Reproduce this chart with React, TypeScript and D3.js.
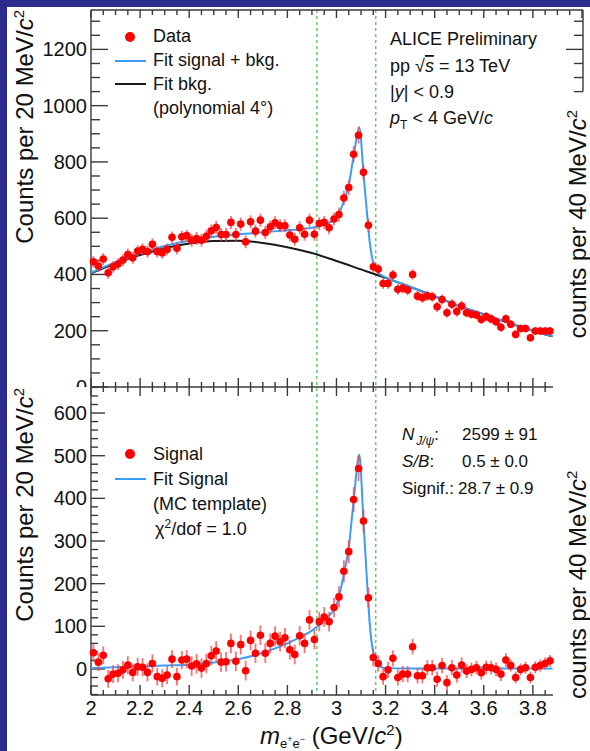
import React, { useEffect } from "react";
import * as d3 from "d3";

// ---------- data ----------
const binCenters = [
  2.01, 2.03, 2.05, 2.07, 2.09, 2.11, 2.13, 2.15, 2.17, 2.19,
  2.21, 2.23, 2.25, 2.27, 2.29, 2.31, 2.33, 2.35, 2.37, 2.39,
  2.41, 2.43, 2.45, 2.47, 2.49, 2.51, 2.53, 2.55, 2.57, 2.59,
  2.61, 2.63, 2.65, 2.67, 2.69, 2.71, 2.73, 2.75, 2.77, 2.79,
  2.81, 2.83, 2.85, 2.87, 2.89, 2.91, 2.93, 2.95, 2.97, 2.99,
  3.01, 3.03, 3.05, 3.07, 3.09, 3.11, 3.13, 3.15, 3.17, 3.19,
  3.21, 3.23, 3.25, 3.27, 3.29, 3.31, 3.33, 3.35, 3.37, 3.39,
  3.41, 3.43, 3.45, 3.47, 3.49, 3.51, 3.53, 3.55, 3.57, 3.59,
  3.61, 3.63, 3.65, 3.67, 3.69, 3.71, 3.73, 3.75, 3.77, 3.79,
  3.81, 3.83, 3.85, 3.87,
];

const dataCounts = [
  445, 430, 455, 406, 427, 437, 451, 471, 459, 483,
  489, 481, 507, 481, 477, 489, 532, 493, 534, 538,
  522, 528, 522, 536, 555, 567, 542, 542, 585, 542,
  579, 516, 587, 554, 593, 549, 569, 584, 573, 573,
  540, 525, 566, 543, 593, 543, 581, 585, 566, 597,
  613, 672, 709, 827, 895, 763, 575, 427, 419, 368,
  368, 398, 347, 351, 345, 400, 323, 317, 324, 321,
  285, 311, 264, 294, 268, 288, 264, 259, 256, 240,
  250, 242, 232, 212, 242, 223, 187, 208, 208, 175,
  199, 199, 199, 199,
];

const signalCounts = [
  38, 16, 32, -23, -12, -10, -2, 9, -8, 5,
  4, -8, 13, -18, -22, -14, 23, -18, 21, 23,
  7, 12, 2, 13, 31, 42, 16, 17, 60, 18,
  57, -4, 67, 37, 79, 37, 60, 77, 64, 73,
  45, 34, 78, 60, 115, 69, 111, 122, 111, 144,
  169, 229, 275, 397, 470, 347, 167, 27, 13, -18,
  -2, 25, -20, -12, -12, 52, -16, -16, 3, 3,
  -24, 8, -32, 3, -14, 9, -5, -1, 3, -9,
  4, 3, -1, -12, 21, 8, -20, -1, 3, -20,
  4, 8, 13, 19,
];

const statErrors = [
  21, 21, 21, 21, 21, 21, 21, 21, 21, 21,
  21, 21, 21, 21, 21, 21, 21, 21, 21, 21,
  23, 23, 23, 23, 23, 23, 23, 23, 23, 23,
  23, 23, 23, 23, 23, 23, 23, 23, 23, 23,
  23, 23, 23, 23, 23, 23, 23, 23, 23, 23,
  25, 26, 27, 29, 30, 28, 24, 21, 19, 19,
  19, 19, 19, 19, 19, 18, 18, 18, 18, 18,
  18, 18, 18, 18, 18, 18, 16, 16, 16, 16,
  16, 16, 16, 16, 16, 14, 14, 14, 14, 14,
  14, 14, 14, 14,
];

const bkgFitMass = [2.0, 2.1, 2.2, 2.3, 2.4, 2.5, 2.6, 2.7, 2.8, 2.9, 3.0, 3.1, 3.2, 3.3, 3.4, 3.5, 3.6, 3.7, 3.8, 3.88];
const bkgFitValues = [404, 440, 469, 493, 510, 519, 520, 512, 497, 476, 448, 418, 388, 356, 322, 288, 258, 228, 200, 180];

const totalFitMass = [2.0, 2.1, 2.2, 2.3, 2.4, 2.5, 2.6, 2.7, 2.8, 2.85, 2.9, 2.95, 3.0, 3.01, 3.03, 3.05, 3.07, 3.093, 3.11, 3.125, 3.135, 3.145, 3.155, 3.165, 3.18, 3.2, 3.3, 3.4, 3.5, 3.6, 3.7, 3.8, 3.88];
const totalFitValues = [406, 444, 475, 501, 520, 534, 543, 550, 557, 561, 566, 578, 598, 615, 661, 718, 822, 922, 760, 611, 518, 460, 430, 412, 399, 390, 357, 323, 289, 259, 229, 201, 181];

const signalFitMass = [2.0, 2.1, 2.2, 2.3, 2.4, 2.5, 2.6, 2.7, 2.8, 2.85, 2.9, 2.95, 3.0, 3.01, 3.03, 3.05, 3.07, 3.093, 3.11, 3.125, 3.135, 3.145, 3.155, 3.165, 3.18, 3.2, 3.3, 3.88];
const signalFitValues = [2, 4, 6, 8, 10, 15, 23, 38, 60, 74, 90, 115, 150, 170, 222, 285, 395, 502, 345, 200, 110, 55, 28, 13, 5, 2, 1, 1];

const xMajorTicks = [2, 2.2, 2.4, 2.6, 2.8, 3, 3.2, 3.4, 3.6, 3.8];
const xTickLabels = ["2", "2.2", "2.4", "2.6", "2.8", "3", "3.2", "3.4", "3.6", "3.8"];
const topYMajor = [0, 200, 400, 600, 800, 1000, 1200];
const topYLabels = ["0", "200", "400", "600", "800", "1000", "1200"];
const botYMajor = [0, 100, 200, 300, 400, 500, 600];
const botYLabels = ["0", "100", "200", "300", "400", "500", "600"];
const windowEdges = [2.92, 3.16];

// ---------- styling ----------
const FF = "'Liberation Sans', Arial, Helvetica, sans-serif";
const NAVY = "#2b2d8e";
const AX = "#3a3a3a";
const BLUE = "#3d9df5";
const RED = "#ff0000";
const GREEN = "#62c462";

export default function App() {
  useEffect(() => {
    document.body.style.margin = "0";
  }, []);

  const x = d3.scaleLinear().domain([2, 3.882]).range([91, 553]);
  const yT = d3.scaleLinear().domain([0, 1340]).range([387, 10]);
  const yB = d3.scaleLinear().domain([-61, 661]).range([695, 387]);

  const isMajorX = (v: number) => Math.abs(v * 5 - Math.round(v * 5)) < 1e-6;
  const xMinorAll = d3.range(0, 41).map((i) => 2 + i * 0.05); // 2..4
  const xMinorIn = xMinorAll.filter((v) => v <= 3.882);

  const topYMinor = d3.range(0, 27).map((i) => i * 50);
  const botYMinor = d3.range(0, 37).map((i) => -60 + i * 20);

  const lineT = (xs: number[], ys: number[]) =>
    d3
      .line<number>()
      .x((_, i) => x(xs[i]))
      .y((d) => yT(d))
      .curve(d3.curveMonotoneX)(ys) as string;
  const lineB = (xs: number[], ys: number[]) =>
    d3
      .line<number>()
      .x((_, i) => x(xs[i]))
      .y((d) => yB(d))
      .curve(d3.curveMonotoneX)(ys) as string;

  const rightTicks = [1300, 1250, 1200, 1150, 1100, 1050];

  return (
    <svg
      width={590}
      height={751}
      style={{ position: "absolute", left: 0, top: 0, display: "block" }}
      fontFamily={FF}
    >
      <defs>
        <clipPath id="topClip">
          <rect x={0} y={0} width={590} height={387} />
        </clipPath>
      </defs>
      <rect x={0} y={0} width={590} height={751} fill={NAVY} />
      <rect x={7} y={7} width={583} height={744} fill="#ffffff" />

      {/* window lines */}
      {windowEdges.map((w) => (
        <line
          key={w}
          x1={x(w)}
          x2={x(w)}
          y1={10}
          y2={695}
          stroke={GREEN}
          strokeWidth={1.4}
          strokeDasharray="3,3"
        />
      ))}

      {/* ===== TOP PANEL ===== */}
      <g stroke={AX} strokeWidth={1.4}>
        <line x1={91} x2={91} y1={10} y2={387} />
        <line x1={91} x2={583} y1={10} y2={10} />
        <line x1={583} x2={583} y1={10} y2={yT(1050)} />
        <line x1={91} x2={553} y1={387} y2={387} />
        {topYMinor.map((v) => (
          <line key={"tym" + v} x1={91} x2={v % 200 === 0 ? 108 : 100} y1={yT(v)} y2={yT(v)} />
        ))}
        {rightTicks.map((v) => (
          <line key={"rt" + v} x1={583} x2={v === 1200 ? 566 : 574} y1={yT(v)} y2={yT(v)} />
        ))}
        {xMinorAll.map((v) => (
          <line key={"txt" + v} x1={x(v)} x2={x(v)} y1={10} y2={10 + (isMajorX(v) ? 8 : 5)} />
        ))}
        {xMinorIn.map((v) => (
          <line
            key={"mid" + v}
            x1={x(v)}
            x2={x(v)}
            y1={387 - (isMajorX(v) ? 9 : 5)}
            y2={387 + (isMajorX(v) ? 9 : 5)}
          />
        ))}
      </g>
      <g fontSize={20} textAnchor="end" fill="#111" clipPath="url(#topClip)">
        {topYMajor.map((v, i) => (
          <text key={"tyl" + v} x={87} y={yT(v)} dy="0.35em">
            {topYLabels[i]}
          </text>
        ))}
      </g>

      {/* fits top */}
      <path d={lineT(bkgFitMass, bkgFitValues)} fill="none" stroke="#1a1a1a" strokeWidth={2} />
      <path d={lineT(totalFitMass, totalFitValues)} fill="none" stroke={BLUE} strokeWidth={2} />

      {/* data top */}
      <g>
        {binCenters.map((m, i) => (
          <line
            key={"te" + i}
            x1={x(m)}
            x2={x(m)}
            y1={yT(dataCounts[i] - statErrors[i])}
            y2={yT(dataCounts[i] + statErrors[i])}
            stroke="#ff4040"
            strokeOpacity={0.75}
            strokeWidth={1.8}
          />
        ))}
        {binCenters.map((m, i) => (
          <circle key={"tp" + i} cx={x(m)} cy={yT(dataCounts[i])} r={3.8} fill={RED} />
        ))}
      </g>

      {/* top legend */}
      <g fontSize={18} fill="#111">
        <circle cx={130} cy={37} r={5} fill={RED} />
        <text x={153} y={42}>Data</text>
        <line x1={115} x2={146} y1={61} y2={61} stroke={BLUE} strokeWidth={2} />
        <text x={153} y={66}>Fit signal + bkg.</text>
        <line x1={115} x2={146} y1={84} y2={84} stroke="#1a1a1a" strokeWidth={2} />
        <text x={153} y={90}>Fit bkg.</text>
        <text x={153} y={114}>(polynomial 4°)</text>
      </g>

      {/* top right text */}
      <g fontSize={18} fill="#111">
        <text x={390} y={45}>ALICE Preliminary</text>
        <text x={390} y={72}>
          pp √<tspan fontStyle="italic" textDecoration="overline">s</tspan> = 13 TeV
        </text>
        <text x={390} y={98}>
          |<tspan fontStyle="italic">y</tspan>| {"<"} 0.9
        </text>
        <text x={390} y={124}>
          <tspan fontStyle="italic">p</tspan>
          <tspan fontSize={12} dy={5}>T</tspan>
          <tspan dy={-5}> {"<"} 4 GeV/</tspan>
          <tspan fontStyle="italic">c</tspan>
        </text>
      </g>

      {/* ===== BOTTOM PANEL ===== */}
      <g stroke={AX} strokeWidth={1.4}>
        <line x1={91} x2={91} y1={387} y2={695} />
        <line x1={91} x2={553} y1={695} y2={695} />
        {botYMinor.map((v) => (
          <line key={"bym" + v} x1={91} x2={v % 100 === 0 ? 105 : 98} y1={yB(v)} y2={yB(v)} />
        ))}
        {xMinorIn.map((v) => (
          <line key={"bxt" + v} x1={x(v)} x2={x(v)} y1={695} y2={695 - (isMajorX(v) ? 10 : 5)} />
        ))}
      </g>
      <g fontSize={20} textAnchor="end" fill="#111">
        {botYMajor.map((v, i) => (
          <text key={"byl" + v} x={87} y={yB(v)} dy="0.35em">
            {botYLabels[i]}
          </text>
        ))}
      </g>
      <g fontSize={20} textAnchor="middle" fill="#111">
        {xMajorTicks.map((v, i) => (
          <text key={"bxl" + v} x={x(v)} y={715}>
            {xTickLabels[i]}
          </text>
        ))}
      </g>

      <path d={lineB(signalFitMass, signalFitValues)} fill="none" stroke={BLUE} strokeWidth={2} />

      <g>
        {binCenters.map((m, i) => (
          <line
            key={"be" + i}
            x1={x(m)}
            x2={x(m)}
            y1={yB(signalCounts[i] - statErrors[i])}
            y2={yB(signalCounts[i] + statErrors[i])}
            stroke="#ff4040"
            strokeOpacity={0.75}
            strokeWidth={1.8}
          />
        ))}
        {binCenters.map((m, i) => (
          <circle key={"bp" + i} cx={x(m)} cy={yB(signalCounts[i])} r={3.8} fill={RED} />
        ))}
      </g>

      {/* bottom legend */}
      <g fontSize={18} fill="#111">
        <circle cx={130} cy={454} r={5} fill={RED} />
        <text x={153} y={460}>Signal</text>
        <line x1={115} x2={146} y1={479} y2={479} stroke={BLUE} strokeWidth={2} />
        <text x={153} y={485}>Fit Signal</text>
        <text x={153} y={510}>(MC template)</text>
        <text x={155} y={535}>
          χ<tspan fontSize={12} dy={-7}>2</tspan>
          <tspan dy={7}>/dof = 1.0</tspan>
        </text>
      </g>

      {/* bottom right text */}
      <g fontSize={17} fill="#111">
        <text x={402} y={440}>
          <tspan fontStyle="italic">N</tspan>
          <tspan fontSize={12} fontStyle="italic" dy={5} dx={2}>J/ψ</tspan>
          <tspan dy={-5}>:</tspan>
        </text>
        <text x={462} y={440}>2599 ± 91</text>
        <text x={402} y={467}>
          <tspan fontStyle="italic">S/B</tspan>:
        </text>
        <text x={462} y={467}>0.5 ± 0.0</text>
        <text x={402} y={494}>Signif.:</text>
        <text x={458} y={494}>28.7 ± 0.9</text>
      </g>

      {/* axis titles */}
      <g fontSize={24} fill="#111">
        <text transform="translate(33,10) rotate(-90)" textAnchor="end">
          Counts per 20 MeV/<tspan fontStyle="italic">c</tspan>
          <tspan fontSize={15} dy={-9}>2</tspan>
        </text>
        <text transform="translate(33,388) rotate(-90)" textAnchor="end">
          Counts per 20 MeV/<tspan fontStyle="italic">c</tspan>
          <tspan fontSize={15} dy={-9}>2</tspan>
        </text>
        <text transform="translate(586,110) rotate(-90)" textAnchor="end">
          counts per 40 MeV/<tspan fontStyle="italic">c</tspan>
          <tspan fontSize={15} dy={-9}>2</tspan>
        </text>
        <text transform="translate(586,699) rotate(-90)" textAnchor="start">
          counts per 40 MeV/<tspan fontStyle="italic">c</tspan>
          <tspan fontSize={15} dy={-9}>2</tspan>
        </text>
        <text x={260} y={744}>
          <tspan fontStyle="italic">m</tspan>
          <tspan fontSize={13} dy={4}>e</tspan>
          <tspan fontSize={9} dy={-6}>+</tspan>
          <tspan fontSize={13} dy={6}>e</tspan>
          <tspan fontSize={9} dy={-6}>−</tspan>
          <tspan dy={2}> (GeV/</tspan>
          <tspan fontStyle="italic">c</tspan>
          <tspan fontSize={15} dy={-9}>2</tspan>
          <tspan dy={9}>)</tspan>
        </text>
      </g>
    </svg>
  );
}
